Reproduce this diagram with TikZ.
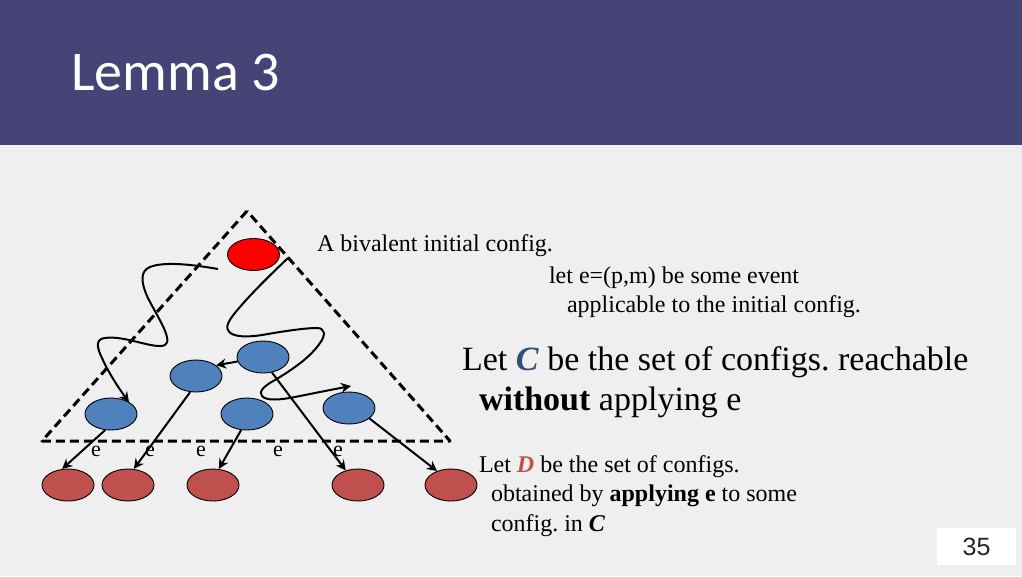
\documentclass[tikz,border=0pt]{standalone}
\usepackage{fontspec}
\setmainfont{Liberation Serif}
\newfontfamily\titlefont{Carlito}
\newfontfamily\numfont{Liberation Sans}
\usetikzlibrary{arrows.meta,shapes.geometric}
\definecolor{hdr}{HTML}{464377}
\definecolor{bg}{HTML}{EFEFEF}
\definecolor{bluen}{HTML}{4F81BD}
\definecolor{redn}{HTML}{C0504D}
\definecolor{cletter}{HTML}{2E5078}
\frenchspacing
\tikzset{
 x=1pt,y=-1pt,
 config/.style={ellipse,draw=black,line width=0.9pt,minimum width=52pt,minimum height=32pt,inner sep=0pt},
 cblue/.style={config,fill=bluen},
 cred/.style={config,fill=redn},
 ctop/.style={config,fill=red},
 tri/.style={line width=3pt,dash pattern=on 9pt off 5pt,line join=round},
 conn/.style={line width=2pt,-{Stealth[length=10pt,width=10pt]}},
 wig/.style={line width=2pt,-{Stealth[length=10pt,width=10pt]}},
 txt/.style={anchor=base west,inner sep=0pt,outer sep=0pt,font=\fontsize{#1pt}{#1pt}\selectfont},
 ee/.style={anchor=base,inner sep=0pt,font=\fontsize{22pt}{22pt}\selectfont},
}
\begin{document}
\begin{tikzpicture}
\useasboundingbox (0,0) rectangle (1022,576);
\fill[bg] (0,0) rectangle (1022,576);
\fill[hdr] (0,0) rectangle (1022,145);
\node[anchor=base west,inner sep=0pt,text=white,font=\titlefont\fontsize{56pt}{56pt}\selectfont] (title) at (71,90) {Lemma 3};
\coordinate (apex) at (247,211);
\coordinate (tl) at (42,441);
\coordinate (tr) at (450,441);
\draw[tri] (apex) -- (tl) -- (tr) -- cycle;
\node[ctop] (r0) at (253.5,254.5) {};
\node[cblue] (b1) at (263,357) {};
\node[cblue] (b2) at (196,376) {};
\node[cblue] (b3) at (111,414) {};
\node[cblue] (b4) at (247,414) {};
\node[cblue] (b5) at (349,408) {};
\node[cred] (c1) at (68,485) {};
\node[cred] (c2) at (128,485) {};
\node[cred] (c3) at (213,485) {};
\node[cred] (c4) at (358,485) {};
\node[cred] (c5) at (451,485) {};
\node[ee] (e1) at (96,456) {e};
\node[ee] (e2) at (150,456) {e};
\node[ee] (e3) at (201,456) {e};
\node[ee] (e4) at (278,456) {e};
\node[ee] (e5) at (338,456) {e};
\coordinate (w1s) at (218,269);
\coordinate (w1e) at (129,402);
\draw[wig] (w1s) .. controls (195,265) and (165,261) .. (150,267)
 .. controls (140,271) and (141,282) .. (147,296)
 .. controls (155,313) and (174,340) .. (165,345)
 .. controls (155,350) and (125,335) .. (105,338)
 .. controls (95,339) and (97,348) .. (102,358)
 .. controls (108,372) and (120,390) .. (w1e);
\coordinate (w2s) at (288,258);
\coordinate (w2e) at (351,386);
\draw[wig] (w2s) .. controls (270,275) and (250,295) .. (240,307)
 .. controls (232,316) and (225,325) .. (228,330)
 .. controls (231,338) and (250,337) .. (262,335)
 .. controls (285,331) and (305,328) .. (317,328)
 .. controls (325,328) and (326,335) .. (320,343)
 .. controls (310,358) and (290,371) .. (275,380)
 .. controls (262,387) and (259,392) .. (262,396)
 .. controls (266,401) and (280,400) .. (295,397)
 .. controls (315,393) and (335,389) .. (w2e);
\draw[conn] (b1.190) -- (b2.28);
\draw[conn] (b3.250) -- (c1.110);
\draw[conn] (b2.250) -- (c2.70);
\draw[conn] (b4.250) -- (c3.70);
\draw[conn] (b1.300) -- (c4.130);
\draw[conn] (b5.333) -- (c5.135);
\node[txt=24] (t1) at (317,251) {A bivalent initial config.};
\node[txt=24] (t2) at (549,283) {let e=(p,m) be some event};
\node[txt=24] (t3) at (567,312) {applicable to the initial config.};
\node[txt=34] (t4) at (462,370) {Let \textcolor{cletter}{\textbf{\textit{C}}} be the set of configs. reachable};
\node[txt=34] (t5) at (479,410) {\textbf{without} applying e};
\node[txt=24] (t6) at (479,472) {Let \textcolor{redn}{\textbf{\textit{D}}} be the set of configs.};
\node[txt=24] (t7) at (491,501) {obtained by \textbf{applying e} to some};
\node[txt=24] (t8) at (491,531) {config. in \textbf{\textit{C}}};
\node[fill=white,minimum width=79pt,minimum height=37pt,inner sep=0pt,text=black!85,font=\numfont\fontsize{25pt}{25pt}\selectfont] (num) at (976.5,546.5) {35};
\end{tikzpicture}
\end{document}
